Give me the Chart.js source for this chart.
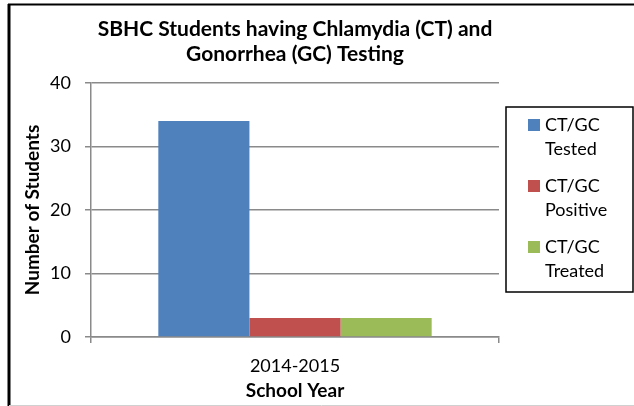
<!DOCTYPE html>
<html>
<head>
<meta charset="utf-8">
<script src="https://cdn.jsdelivr.net/npm/chart.js@4/dist/chart.umd.min.js"></script>
<style>
  html, body { margin: 0; padding: 0; background: #fff; }
  #wrap { width: 634px; height: 406px; position: relative; }
</style>
</head>
<body>
<div id="wrap"><canvas id="chart" width="634" height="406"></canvas></div>
<script>
const schoolYears = ["2014-2015"];
const seriesNames = ["CT/GC Tested", "CT/GC Positive", "CT/GC Treated"];
const seriesColors = ["#4F81BD", "#C0504D", "#9BBB59"];
const tested   = [34];
const positive = [3];
const treated  = [3];
const yTicks   = [0, 10, 20, 30, 40];

const gridColor = "#8a8a8a";
const FONT = "Lato";

// outer frame like the pasted-in office chart
const framePlugin = {
  id: "frame",
  afterDraw(chart) {
    const c = chart.ctx;
    c.save();
    c.strokeStyle = "#000";
    c.lineWidth = 2;
    c.beginPath(); c.moveTo(8, 4.5); c.lineTo(634, 4.5); c.stroke();
    c.lineWidth = 3;
    c.beginPath(); c.moveTo(9, 4); c.lineTo(9, 406); c.stroke();
    c.strokeStyle = "#d0d0d0";
    c.lineWidth = 1;
    c.beginPath(); c.moveTo(9, 405.5); c.lineTo(634, 405.5); c.stroke();
    c.restore();
  }
};

// legend with a box and two-line labels
const boxLegend = {
  id: "boxLegend",
  afterDraw(chart) {
    const c = chart.ctx;
    c.save();
    c.strokeStyle = "#000";
    c.lineWidth = 1.5;
    c.strokeRect(506, 107, 127, 185);
    c.font = "18px " + FONT;
    c.fillStyle = "#000";
    c.textBaseline = "middle";
    chart.data.datasets.forEach((ds, i) => {
      const y = 125 + i * 61;
      const parts = ds.label.split(" ");
      c.fillStyle = ds.backgroundColor;
      c.fillRect(528, y - 6, 12, 12);
      c.fillStyle = "#000";
      c.fillText(parts[0], 545, y);
      c.fillText(parts.slice(1).join(" "), 545, y + 24);
    });
    c.restore();
  }
};

const values = [tested, positive, treated];

new Chart(document.getElementById("chart"), {
  type: "bar",
  data: {
    labels: schoolYears,
    datasets: seriesNames.map((name, i) => ({
      label: name,
      data: values[i],
      backgroundColor: seriesColors[i],
      borderWidth: 0,
      categoryPercentage: 0.67,
      barPercentage: 1
    }))
  },
  options: {
    responsive: false,
    animation: false,
    layout: { padding: { left: 0, right: 135, top: 0, bottom: 0 } },
    plugins: {
      legend: { display: false },
      tooltip: { enabled: false },
      title: {
        display: true,
        fullSize: false,
        text: ["SBHC Students having Chlamydia (CT) and", "Gonorrhea (GC) Testing"],
        color: "#000",
        font: { family: FONT, size: 21, weight: "bold", lineHeight: 25 / 21 },
        padding: { top: 17, bottom: 16 }
      }
    },
    scales: {
      x: {
        afterFit(scale) { scale.height = 69; },
        grid: { display: true, drawOnChartArea: false, drawTicks: true, tickLength: 6, color: gridColor, lineWidth: 1.5, offset: true },
        border: { color: gridColor, width: 1.5 },
        ticks: { color: "#000", font: { family: FONT, size: 18 }, padding: 12 },
        title: { display: true, text: "School Year", color: "#000", font: { family: FONT, size: 19, weight: "bold" }, padding: { top: 0, bottom: 4 } }
      },
      y: {
        min: 0,
        max: 40,
        afterFit(scale) { scale.width = 91; },
        afterBuildTicks(scale) { scale.ticks = yTicks.map(v => ({ value: v })); },
        grid: { color: gridColor, lineWidth: 1.5, tickLength: 6 },
        border: { color: gridColor, width: 1.5 },
        ticks: { color: "#000", font: { family: FONT, size: 18 }, padding: 14 },
        title: { display: true, text: "Number of Students", color: "#000", font: { family: FONT, size: 19, weight: "bold" }, padding: { top: 21, bottom: 0 } }
      }
    }
  },
  plugins: [framePlugin, boxLegend]
});
</script>
</body>
</html>
